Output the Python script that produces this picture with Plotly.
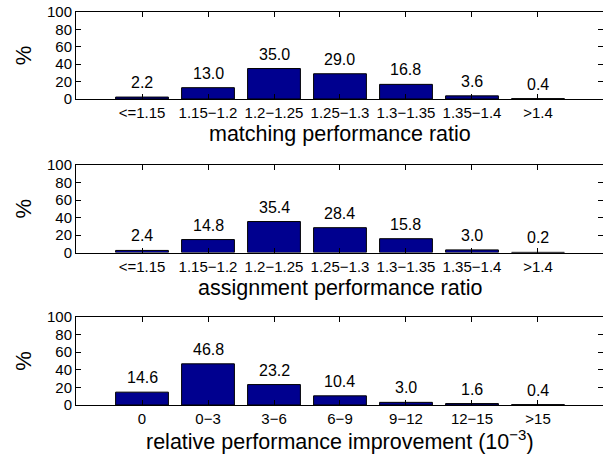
import plotly.graph_objects as go

ratio_categories = ["<=1.15", "1.15\u22121.2", "1.2\u22121.25", "1.25\u22121.3", "1.3\u22121.35", "1.35\u22121.4", ">1.4"]
improvement_categories = ["0", "0\u22123", "3\u22126", "6\u22129", "9\u221212", "12\u221215", ">15"]

matching_values = [2.2, 13.0, 35.0, 29.0, 16.8, 3.6, 0.4]
assignment_values = [2.4, 14.8, 35.4, 28.4, 15.8, 3.0, 0.2]
improvement_values = [14.6, 46.8, 23.2, 10.4, 3.0, 1.6, 0.4]

y_ticks = [0, 20, 40, 60, 80, 100]

panel_titles = [
    "matching performance ratio",
    "assignment performance ratio",
    "relative performance improvement (10<sup>\u22123</sup>)",
]

FONT = "Liberation Sans, Arial, Helvetica, sans-serif"
BAR_COLOR = "#00008F"

panels = [
    (ratio_categories, matching_values),
    (ratio_categories, assignment_values),
    (improvement_categories, improvement_values),
]

# vertical domains (paper fractions) of the three panels
domains = [[0.7862, 0.9741], [0.4546, 0.6436], [0.1253, 0.3153]]
# pixel offset of each x-axis title centre below its panel
title_shifts = [-35, -35, -35.5]

fig = go.Figure()
annotations = []
for i, (cats, vals) in enumerate(panels):
    suffix = "" if i == 0 else str(i + 1)
    fig.add_trace(go.Bar(
        x=cats, y=vals, width=0.8,
        marker=dict(color=BAR_COLOR, line=dict(color="black", width=1)),
        xaxis="x" + suffix, yaxis="y" + suffix, showlegend=False,
        hoverinfo="skip",
    ))
    for c, v in zip(cats, vals):
        annotations.append(dict(
            x=c, y=v, xref="x" + suffix, yref="y" + suffix,
            text=f"{v:.1f}", showarrow=False, yanchor="bottom", yshift=4,
            font=dict(family=FONT, size=16, color="black"),
        ))
    annotations.append(dict(
        x=0.5, y=0, xref="x" + suffix + " domain", yref="y" + suffix + " domain",
        text=panel_titles[i], showarrow=False, xanchor="center", yanchor="middle",
        yshift=title_shifts[i],
        font=dict(family=FONT, size=21.5, color="black"),
    ))

layout = dict(
    width=603, height=463,
    margin=dict(l=0, r=0, t=0, b=0),
    paper_bgcolor="white", plot_bgcolor="white",
    font=dict(family=FONT, size=15, color="black"),
    annotations=annotations,
    bargap=0.2,
)

for i in range(3):
    suffix = "" if i == 0 else str(i + 1)
    anchor_y = "y" + suffix
    anchor_x = "x" + suffix
    layout["xaxis" + suffix] = dict(
        domain=[0.12604, 1.0], anchor=anchor_y,
        type="category", range=[-1, 6.985],
        showline=True, linecolor="black", linewidth=1, mirror="ticks",
        ticks="inside", ticklen=5, tickcolor="black", tickwidth=1,
        showgrid=False, zeroline=False, layer="above traces",
        tickfont=dict(family=FONT, size=15, color="black"),
        automargin=False,
    )
    layout["yaxis" + suffix] = dict(
        domain=domains[i], anchor=anchor_x,
        range=[0, 100], tickvals=y_ticks,
        showline=True, linecolor="black", linewidth=1, mirror="ticks",
        ticks="inside", ticklen=5, tickcolor="black", tickwidth=1,
        showgrid=False, zeroline=False, layer="above traces",
        tickfont=dict(family=FONT, size=15, color="black"),
        title=dict(text="%", font=dict(family=FONT, size=22, color="black"), standoff=9),
        automargin=False,
    )

fig.update_layout(**layout)
fig.write_html(
    "out.html",
    config={"displayModeBar": False},
    post_script="document.body.style.margin='0';",
)
